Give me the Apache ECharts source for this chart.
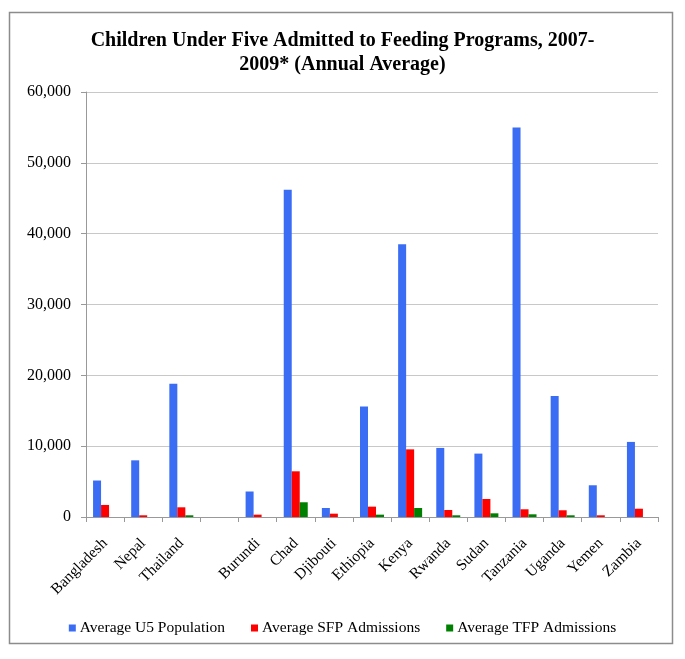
<!DOCTYPE html>
<html><head><meta charset="utf-8">
<script src="https://cdn.jsdelivr.net/npm/echarts@6/dist/echarts.min.js"></script>
<style>html,body{margin:0;padding:0;background:#fff}#c{width:685px;height:659px}</style>
</head><body><div id="c"></div>
<script>
const categories = ['Bangladesh','Nepal','Thailand','','Burundi','Chad','Djibouti','Ethiopia','Kenya','Rwanda','Sudan','Tanzania','Uganda','Yemen','Zambia'];
const u5Population = [5150, 8000, 18800, null, 3600, 46200, 1270, 15600, 38500, 9750, 8950, 55000, 17100, 4480, 10600];
const sfpAdmissions = [1700, 240, 1370, null, 330, 6450, 470, 1460, 9550, 990, 2540, 1090, 950, 240, 1170];
const tfpAdmissions = [0, 0, 240, null, 0, 2080, 0, 330, 1270, 240, 520, 380, 240, 0, 0];
const yTicks = [0, 10000, 20000, 30000, 40000, 50000, 60000];

const serif = 'Liberation Serif';
const chart = echarts.init(document.getElementById('c'));
chart.setOption({
  animation: false,
  title: {
    text: 'Children Under Five Admitted to Feeding Programs, 2007-\n2009* (Annual Average)',
    left: 'center', top: 24,
    textStyle: {fontFamily: serif, fontWeight: 'bold', fontSize: 20, color: '#000', lineHeight: 24}
  },
  graphic: [{type: 'rect', shape: {x: 9.5, y: 12.5, width: 663, height: 631},
    style: {fill: 'none', stroke: '#8c8c8c', lineWidth: 1.5}, silent: true}],
  legend: {
    bottom: 18, left: 'center', itemWidth: 7, itemHeight: 7, itemGap: 26,
    icon: 'rect',
    textStyle: {fontFamily: serif, fontSize: 15.5, color: '#000', padding: [0, 0, 0, -1]},
    data: ['Average U5 Population', 'Average SFP Admissions', 'Average TFP Admissions']
  },
  grid: {left: 86, right: 27, top: 92, bottom: 142},
  xAxis: {
    type: 'category', data: categories,
    axisLine: {lineStyle: {color: '#999'}},
    axisTick: {show: true, length: 5, lineStyle: {color: '#999'}},
    axisLabel: {rotate: 45, fontFamily: serif, fontSize: 15.5, color: '#000', margin: 24, interval: 0}
  },
  yAxis: {
    type: 'value', min: yTicks[0], max: yTicks[yTicks.length - 1], interval: 10000,
    axisLine: {show: true, lineStyle: {color: '#999'}},
    axisTick: {show: true, length: 5, lineStyle: {color: '#999'}},
    splitLine: {lineStyle: {color: '#c8c8c8'}},
    axisLabel: {fontFamily: serif, fontSize: 16, color: '#000', margin: 15,
      formatter: v => v.toLocaleString('en-US')}
  },
  series: [
    {name: 'Average U5 Population', type: 'bar', data: u5Population, barWidth: 8, barGap: '0%', itemStyle: {color: '#3b6cf4'}},
    {name: 'Average SFP Admissions', type: 'bar', data: sfpAdmissions, barWidth: 8, barGap: '0%', itemStyle: {color: '#ff0000'}},
    {name: 'Average TFP Admissions', type: 'bar', data: tfpAdmissions, barWidth: 8, barGap: '0%', itemStyle: {color: '#008000'}}
  ]
});
</script></body></html>
